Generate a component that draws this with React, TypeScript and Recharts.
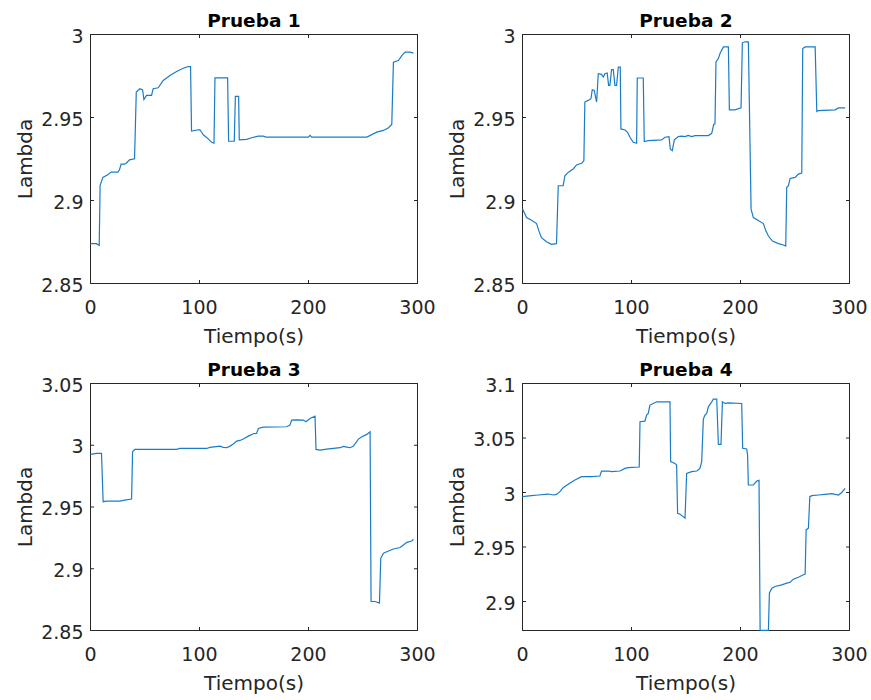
import { LineChart, Line, XAxis, YAxis, ReferenceArea } from "recharts";

const INK = "#262626";
const BLUE = "#1a7cc6";
const FONT = "'DejaVu Sans', 'Liberation Sans', sans-serif";

const xTicks = [0, 100, 200, 300];

// Prueba 1
const t1 = [0, 5.5, 8, 8.8, 11.3, 15.9, 18.9, 25.1, 26.6, 28.1, 31.2, 32.7, 35.8, 40.4, 42, 45.3, 47.8, 49, 51.4, 56, 57.5, 62.1, 66.7, 72.9, 79, 85.1, 89.7, 91.8, 92.7, 98.9, 100.4, 103.5, 108, 111.1, 113.3, 114.2, 125.8, 126.7, 131.9, 132.9, 135.9, 136.5, 143.3, 147.8, 154, 158.6, 161, 199.9, 201.4, 203, 253.5, 262.6, 268.8, 273.4, 276.4, 277.9, 282.5, 285.6, 288.7, 293.2, 296.3];
const lambda1 = [2.874, 2.874, 2.873, 2.909, 2.9139, 2.9155, 2.9171, 2.9171, 2.9185, 2.9219, 2.9219, 2.9225, 2.9245, 2.9251, 2.9653, 2.9673, 2.9666, 2.9608, 2.9633, 2.9633, 2.9673, 2.9679, 2.9723, 2.9753, 2.9777, 2.9797, 2.9807, 2.9807, 2.9418, 2.9426, 2.9426, 2.9396, 2.9371, 2.9351, 2.9345, 2.9739, 2.9739, 2.9357, 2.9357, 2.9627, 2.9627, 2.9365, 2.9368, 2.9378, 2.9388, 2.9388, 2.9382, 2.9382, 2.9392, 2.9382, 2.9382, 2.9412, 2.9422, 2.9438, 2.9458, 2.9833, 2.9843, 2.9873, 2.9894, 2.9894, 2.9888];
const yTicks1 = [2.85, 2.9, 2.95, 3];

// Prueba 2
const t2 = [0, 3.7, 8.3, 12.9, 15, 17.4, 22, 26.6, 31.2, 32.8, 37.3, 38.9, 41.9, 46.5, 49.6, 54.2, 56.3, 57.2, 60.3, 62.8, 64, 65.8, 68, 69.5, 72.5, 74.1, 75.6, 77.7, 79, 80.2, 81.7, 83.3, 84.8, 86.3, 87.9, 89.7, 90.3, 94, 96.4, 98.6, 101.6, 104.7, 105.3, 110.8, 111.7, 115.4, 127.6, 130.7, 134.4, 135.6, 137.4, 139.3, 142.9, 146, 149.1, 152.1, 155.2, 158.3, 170.5, 173.6, 175.4, 176.6, 177.5, 179.7, 181.2, 184.3, 188.9, 189.8, 195, 200.5, 201.7, 204.2, 207.2, 209.7, 211.8, 221, 223.1, 225.6, 229.3, 234.8, 239.4, 241.5, 242.4, 244, 245.5, 250.1, 253.1, 256.2, 257.1, 259.3, 268.5, 270, 271.5, 286.8, 289.9, 296];
const lambda2 = [2.895, 2.8897, 2.8881, 2.8861, 2.8817, 2.8776, 2.8752, 2.8736, 2.874, 2.9089, 2.9089, 2.9149, 2.9169, 2.919, 2.9214, 2.9224, 2.924, 2.9593, 2.9603, 2.9613, 2.9667, 2.9663, 2.9593, 2.9764, 2.976, 2.9744, 2.9764, 2.9768, 2.9694, 2.9694, 2.9788, 2.9788, 2.9694, 2.9694, 2.9804, 2.9804, 2.9431, 2.9425, 2.9411, 2.9381, 2.9351, 2.9345, 2.9738, 2.9738, 2.9355, 2.9361, 2.9365, 2.9381, 2.9385, 2.931, 2.93, 2.9365, 2.9385, 2.9388, 2.9385, 2.9392, 2.9385, 2.9391, 2.9391, 2.9405, 2.9458, 2.9462, 2.9835, 2.9855, 2.9885, 2.9925, 2.9925, 2.9546, 2.9546, 2.9559, 2.995, 2.9956, 2.9956, 2.8948, 2.8897, 2.8861, 2.882, 2.8786, 2.8756, 2.874, 2.8732, 2.8726, 2.9079, 2.9089, 2.9133, 2.9139, 2.9159, 2.9165, 2.9915, 2.9925, 2.9925, 2.9536, 2.9542, 2.9546, 2.9558, 2.9558];
const yTicks2 = [2.85, 2.9, 2.95, 3];

// Prueba 3
const t3 = [0, 5.5, 10.1, 11.6, 14.7, 26.9, 30, 37.7, 38.6, 40.7, 79, 82, 106.5, 109.6, 118.8, 121.8, 124.9, 128, 131, 134.1, 137.1, 140.2, 144.8, 149.4, 152.4, 154, 158.6, 180, 183, 184.6, 189.2, 195.3, 197.7, 201.4, 206, 206.9, 210.6, 216.7, 222.8, 229, 232, 235.1, 238.2, 241.2, 245.8, 248.9, 253.5, 256.5, 257.4, 261.1, 265.1, 266.3, 268.8, 273.4, 277.9, 281, 284.1, 287.1, 290.2, 294.8, 296.3];
const lambda3 = [2.9926, 2.9934, 2.9934, 2.9543, 2.9548, 2.9548, 2.9554, 2.9565, 2.9948, 2.9966, 2.9966, 2.9974, 2.9974, 2.9983, 2.9993, 2.9983, 2.998, 2.9993, 3.001, 3.0034, 3.0039, 3.005, 3.0074, 3.0093, 3.0096, 3.0136, 3.0147, 3.015, 3.0163, 3.0204, 3.0206, 3.0204, 3.019, 3.0217, 3.0236, 2.9966, 2.9961, 2.9969, 2.9974, 2.998, 2.999, 2.9985, 2.998, 2.9993, 3.005, 3.0069, 3.0088, 3.011, 2.8735, 2.8735, 2.8722, 2.9085, 2.9126, 2.9144, 2.916, 2.9166, 2.9172, 2.9193, 2.9214, 2.9225, 2.9239];
const yTicks3 = [2.85, 2.9, 2.95, 3, 3.05];

// Prueba 4
const t4 = [0, 8.3, 14.4, 23.6, 28.2, 31.2, 34.3, 37.3, 41.9, 48.1, 54.2, 63.4, 71, 72.5, 78.7, 81.7, 89.4, 94, 97, 107.1, 107.8, 112.3, 113.9, 115.4, 116.9, 120, 123.1, 135.3, 135.9, 139.9, 141.4, 142.3, 144.5, 147.5, 149.1, 150.6, 155.2, 159.8, 162.8, 164.4, 165.9, 167.4, 169, 170.5, 173.6, 175.1, 178.2, 179.7, 182.1, 183.4, 185.8, 188.9, 201.1, 202, 205.7, 206.5, 207.2, 211.8, 214.9, 217, 218, 225.6, 226.5, 228.7, 231.7, 237.8, 242.4, 245.5, 248.6, 253.1, 257.7, 259.3, 260.2, 262.3, 263.6, 265.4, 271.5, 277.6, 283.8, 286.8, 289.9, 292.9, 296];
const lambda4 = [2.9962, 2.9971, 2.9977, 2.9986, 2.9977, 2.9983, 3.0008, 3.0044, 3.0075, 3.0115, 3.0145, 3.0145, 3.0151, 3.0197, 3.0197, 3.0191, 3.0197, 3.0221, 3.0228, 3.0234, 3.0649, 3.0655, 3.071, 3.0726, 3.0802, 3.0817, 3.0832, 3.0832, 3.0283, 3.0267, 3.0252, 2.9809, 2.98, 2.9779, 2.9764, 3.0176, 3.0191, 3.0197, 3.0221, 3.0283, 3.0673, 3.071, 3.0726, 3.0786, 3.0832, 3.0857, 3.0857, 3.0441, 3.0441, 3.0832, 3.0817, 3.0823, 3.0817, 3.0405, 3.0399, 3.0344, 3.0069, 3.0069, 3.0105, 3.0112, 2.8735, 2.8735, 2.9077, 2.9122, 2.9138, 2.9153, 2.9168, 2.9177, 2.9205, 2.9223, 2.9245, 2.9251, 2.9657, 2.9672, 2.9962, 2.9971, 2.9977, 2.9983, 2.999, 2.9983, 2.9977, 3.0, 3.0038];
const yTicks4 = [2.9, 2.95, 3, 3.05, 3.1];

const AXIS_H = 30;
const AXIS_W = 60;

function toRows(t: number[], v: number[]) {
  return t.map((x, i) => ({ t: x, lambda: v[i] }));
}

function XTick({ x, y, payload, ph }: any) {
  return (
    <g>
      <line x1={x} y1={y} x2={x} y2={y - 3.5} stroke={INK} strokeWidth={1} />
      <line x1={x} y1={y - ph} x2={x} y2={y - ph + 3.5} stroke={INK} strokeWidth={1} />
      <text x={x} y={y + 30} textAnchor="middle" fill={INK} fontSize={19} fontFamily={FONT}>
        {payload.value}
      </text>
    </g>
  );
}

function YTick({ x, y, payload, pw }: any) {
  return (
    <g>
      <line x1={x} y1={y} x2={x + 3.5} y2={y} stroke={INK} strokeWidth={1} />
      <line x1={x + pw} y1={y} x2={x + pw - 3.5} y2={y} stroke={INK} strokeWidth={1} />
      <text x={x - 7} y={y + 8} textAnchor="end" fill={INK} fontSize={19} fontFamily={FONT}>
        {payload.value}
      </text>
    </g>
  );
}

function Panel({ title, t, v, yDomain, yTicks, box, plot }: any) {
  const data = toRows(t, v);
  const pw = plot.right - plot.left;
  const ph = plot.bottom - plot.top;
  const margin = {
    left: plot.left - box.x - AXIS_W,
    right: box.x + box.w - plot.right,
    top: plot.top - box.y,
    bottom: box.y + box.h - plot.bottom - AXIS_H,
  };
  const cx = plot.left - box.x + pw / 2;
  const cy = plot.top - box.y + ph / 2;
  const lx = plot.left - box.x - 59;
  return (
    <div style={{ position: "absolute", left: box.x, top: box.y, width: box.w, height: box.h }}>
      <LineChart width={box.w} height={box.h} data={data} margin={margin}>
        <XAxis
          type="number"
          dataKey="t"
          domain={[0, 300]}
          ticks={xTicks}
          interval={0}
          height={AXIS_H}
          axisLine={false}
          tickLine={false}
          tickSize={0}
          tickMargin={0}
          tick={<XTick ph={ph} />}
        />
        <YAxis
          type="number"
          domain={yDomain}
          ticks={yTicks}
          interval={0}
          width={AXIS_W}
          axisLine={false}
          tickLine={false}
          tickSize={0}
          tickMargin={0}
          tick={<YTick pw={pw} />}
        />
        <ReferenceArea
          x1={0}
          x2={300}
          y1={yDomain[0]}
          y2={yDomain[1]}
          fill="none"
          fillOpacity={0}
          stroke={INK}
          strokeWidth={1}
          ifOverflow="visible"
        />
        <Line
          type="linear"
          dataKey="lambda"
          stroke={BLUE}
          strokeWidth={1.2}
          dot={false}
          activeDot={false}
          isAnimationActive={false}
        />
      </LineChart>
      <svg
        width={box.w}
        height={box.h}
        style={{ position: "absolute", left: 0, top: 0, pointerEvents: "none" }}
      >
        <text x={cx} y={plot.top - box.y - 8} textAnchor="middle" fill="#000" fontSize={18.5} fontWeight="bold" fontFamily={FONT}>
          {title}
        </text>
        <text x={cx} y={plot.bottom - box.y + 59} textAnchor="middle" fill={INK} fontSize={20} fontFamily={FONT}>
          Tiempo(s)
        </text>
        <text
          x={lx}
          y={cy}
          transform={`rotate(-90 ${lx} ${cy})`}
          textAnchor="middle"
          fill={INK}
          fontSize={20}
          fontFamily={FONT}
        >
          Lambda
        </text>
      </svg>
    </div>
  );
}

export default function App() {
  return (
    <div style={{ position: "absolute", left: 0, top: 0, width: 871, height: 700, background: "#fff" }}>
      <Panel
        title="Prueba 1"
        t={t1}
        v={lambda1}
        yDomain={[2.85, 3]}
        yTicks={yTicks1}
        box={{ x: 0, y: 0, w: 435, h: 350 }}
        plot={{ left: 90.5, right: 417.5, top: 34.5, bottom: 283.5 }}
      />
      <Panel
        title="Prueba 2"
        t={t2}
        v={lambda2}
        yDomain={[2.85, 3]}
        yTicks={yTicks2}
        box={{ x: 435, y: 0, w: 436, h: 350 }}
        plot={{ left: 522.5, right: 849.5, top: 34.5, bottom: 283.5 }}
      />
      <Panel
        title="Prueba 3"
        t={t3}
        v={lambda3}
        yDomain={[2.85, 3.05]}
        yTicks={yTicks3}
        box={{ x: 0, y: 350, w: 435, h: 350 }}
        plot={{ left: 90.5, right: 417.5, top: 383.5, bottom: 630.5 }}
      />
      <Panel
        title="Prueba 4"
        t={t4}
        v={lambda4}
        yDomain={[2.8734, 3.1]}
        yTicks={yTicks4}
        box={{ x: 435, y: 350, w: 436, h: 350 }}
        plot={{ left: 522.5, right: 849.5, top: 383.5, bottom: 630.5 }}
      />
    </div>
  );
}
